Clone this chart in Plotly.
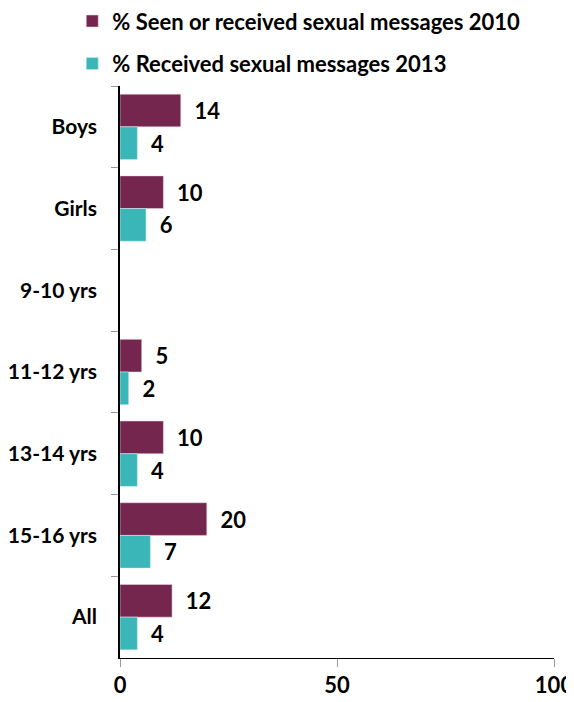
import plotly.graph_objects as go

# categories top to bottom
groups = ["Boys", "Girls", "9-10 yrs", "11-12 yrs", "13-14 yrs", "15-16 yrs", "All"]
seen_2010 = [14, 10, None, 5, 10, 20, 12]
received_2013 = [4, 6, None, 2, 4, 7, 4]

name_2010 = "% Seen or received sexual messages 2010"
name_2013 = "% Received sexual messages 2013"
col_2010 = "#74264F"
col_2013 = "#3AB5B8"

font_family = "Lato"
fsize = 22

def labels(vals):
    return ["  " + str(v) if v is not None else "" for v in vals]

fig = go.Figure()
fig.add_bar(y=groups, x=seen_2010, name=name_2010, orientation="h",
            marker=dict(color=col_2010, line=dict(color="#F2DDE7", width=0.5)),
            text=labels(seen_2010), textposition="outside", cliponaxis=False,
            textfont=dict(size=fsize, color="black", family=font_family),
            legendgroup="a")
fig.add_bar(y=groups, x=received_2013, name=name_2013, orientation="h",
            marker=dict(color=col_2013, line=dict(color="#D8F0F0", width=0.5)),
            text=labels(received_2013), textposition="outside", cliponaxis=False,
            textfont=dict(size=fsize, color="black", family=font_family),
            legendgroup="b")

# page body has an 8px margin, so the figure is made 8px smaller to fit the window
fig.update_layout(
    width=566, height=694,
    margin=dict(l=112, r=20, t=78, b=44, autoexpand=False),
    barmode="group", bargap=0.2, bargroupgap=0,
    plot_bgcolor="white", paper_bgcolor="white",
    font=dict(family=font_family, size=fsize, color="black", weight="bold"),
    legend=dict(x=-0.11, y=1.15, xanchor="left", yanchor="top",
                orientation="v", traceorder="grouped", tracegroupgap=11,
                font=dict(size=fsize, weight="bold"), itemwidth=30),
    showlegend=True,
)
fig.update_xaxes(range=[0, 100], tickvals=[0, 50, 100], showgrid=False,
                 showline=True, linecolor="black", linewidth=1,
                 ticks="outside", ticklen=8, tickcolor="#999999",
                 tickfont=dict(size=fsize, weight="bold"), zeroline=False,
                 automargin=False)
fig.update_yaxes(autorange="reversed", showgrid=False, showline=True,
                 linecolor="black", linewidth=1.5,
                 ticks="outside", tickson="boundaries", ticklen=7,
                 tickcolor="#999999", ticklabelstandoff=17,
                 tickfont=dict(size=21, weight="bold"), automargin=False)

fig.write_html("out.html")
